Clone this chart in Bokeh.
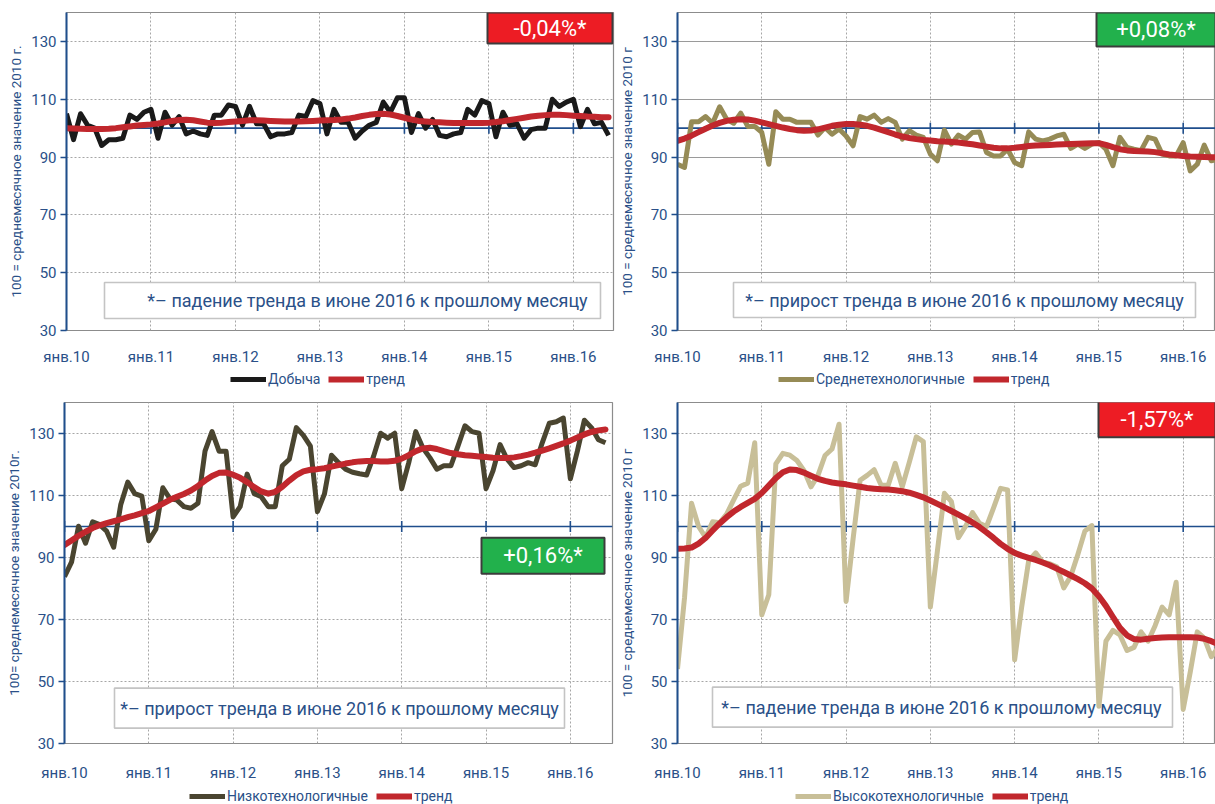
import math
from bokeh.plotting import figure
from bokeh.layouts import column, row
from bokeh.models import FixedTicker, Span, Legend, LegendItem, Range1d
from bokeh.core.properties import value
from bokeh.embed import file_html
from bokeh.resources import INLINE

FONT = "Roboto"
BLUE = "#1f4e8c"
TXT = "#2a5088"
TREND_COLOR = "#c1272d"
GRID = "#a6a6a6"

# ---------------- data (monthly, Jan 2010 .. Jun 2016) ----------------
month_idx = list(range(78))
year_ticks = [0, 12, 24, 36, 48, 60, 72]
year_labels = ["янв.10", "янв.11", "янв.12", "янв.13", "янв.14", "янв.15", "янв.16"]
y_ticks = [30, 50, 70, 90, 110, 130]

dobycha = [
    105, 96, 105, 101, 100, 94, 96, 96, 96.5, 104.5, 103, 105.5,
    106.5, 96.5, 105.5, 101, 104, 98, 99, 98, 97.5, 104.5, 104.5, 108,
    107.5, 101, 107.5, 101.5, 101.5, 97, 98, 98, 98.5, 104.5, 104, 109.5,
    108.5, 98, 106.5, 102, 102, 96.5, 99, 101, 102, 109, 105.5, 110.5,
    110.5, 98.5, 105, 100, 103, 97.5, 97, 98, 98.5, 106.5, 104.5, 109.5,
    108.5, 97, 105.5, 101, 101.5, 96.5, 99.5, 100, 100, 110, 107.5, 109,
    110, 100.5, 106.5, 101.5, 102, 97.5]
dobycha_trend = [
    100.0, 99.9, 99.8, 99.7, 99.7, 99.7, 99.8, 100.0, 100.3, 100.6, 100.9, 101.1,
    101.3, 101.6, 102.0, 102.5, 102.8, 102.9, 102.7, 102.3, 101.9, 101.8, 101.9, 102.1,
    102.3, 102.5, 102.7, 102.7, 102.6, 102.5, 102.4, 102.3, 102.3, 102.3, 102.4, 102.5,
    102.6, 102.7, 102.8, 103.0, 103.3, 103.7, 104.2, 104.6, 104.9, 105.0, 104.7, 104.2,
    103.6, 103.0, 102.5, 102.3, 102.1, 102.0, 101.9, 101.8, 101.8, 101.8, 101.8, 101.8,
    101.9, 102.1, 102.4, 102.8, 103.2, 103.6, 104.0, 104.3, 104.5, 104.6, 104.6, 104.5,
    104.3, 104.2, 104.0, 103.9, 103.8, 103.8]

mid_tech = [
    87.5, 86.4, 102.2, 102.2, 104, 101.7, 107.4, 103.1, 101.7, 105.2, 100.6, 100.6,
    98.5, 87.5, 105.7, 103.1, 103.1, 102, 102, 102, 97.6, 100.2, 97.9, 99.7,
    97.3, 93.9, 104, 103.1, 104.5, 102, 103.3, 102, 96.2, 99.1, 97.6, 96.8,
    91, 88.7, 99.3, 94.5, 97.6, 96.2, 98.5, 98.7, 91.6, 90.4, 90.4, 92.7,
    88.1, 87, 98.7, 96.2, 95.6, 96.2, 97.3, 97.9, 93, 94.5, 93, 94.5,
    95, 92.7, 87, 96.8, 93.3, 92.7, 92.2, 96.8, 96.2, 91, 90.4, 90.4,
    95, 85.2, 87.5, 94.1, 88.7, 89.3]
mid_trend = [
    95.6, 96.4, 97.4, 98.6, 99.8, 100.9, 101.8, 102.5, 102.9, 103.1, 103.0, 102.6,
    102.0, 101.4, 100.8, 100.2, 99.7, 99.3, 99.1, 99.2, 99.6, 100.2, 100.8, 101.2,
    101.4, 101.4, 101.2, 100.8, 100.2, 99.4, 98.6, 97.8, 97.1, 96.6, 96.2, 95.9,
    95.7, 95.5, 95.4, 95.2, 95.0, 94.7, 94.4, 94.0, 93.6, 93.2, 93.0, 93.0,
    93.2, 93.5, 93.8, 94.0, 94.1, 94.2, 94.3, 94.4, 94.5, 94.6, 94.7, 94.8,
    94.8, 94.2, 93.4, 92.7, 92.3, 92.1, 92.0, 91.9, 91.7, 91.3, 90.9, 90.6,
    90.4, 90.2, 90.1, 90.0, 89.9, 89.9]

low_tech = [
    83.8, 88.5, 100.1, 94.6, 101.5, 100.6, 98.5, 93.3, 107, 114.3, 110.6, 109.8,
    95.4, 99.1, 112.5, 109, 108.5, 106.4, 105.9, 107.5, 124.3, 130.6, 124.3, 124.3,
    103.1, 106.4, 116.9, 110.6, 109.6, 106.4, 106.4, 119.6, 121.7, 131.9, 129.4, 125.9,
    104.8, 110.5, 123, 120.6, 118.5, 117.5, 117, 116.6, 122.7, 130.1, 128.5, 130.1,
    112.2, 120.6, 130.6, 125.4, 122.2, 118.5, 119.6, 119.6, 125.9, 132.5, 130.6, 130.1,
    112.2, 118, 126.4, 121.7, 119, 119.6, 120.6, 119.9, 127, 133.3, 133.8, 135,
    115.4, 124.3, 134.3, 131.9, 128, 127]
low_trend = [
    94.0, 95.5, 97.0, 98.3, 99.5, 100.4, 101.1, 101.7, 102.3, 103.0, 103.6, 104.3,
    105.0, 106.2, 107.4, 108.6, 109.6, 110.5, 111.6, 113.1, 114.8, 116.3, 117.3, 117.4,
    116.7, 115.7, 114.3, 112.7, 111.3, 110.6, 111.2, 112.8, 114.8, 116.6, 117.8, 118.3,
    118.5, 118.8, 119.3, 119.8, 120.3, 120.7, 121.0, 121.1, 121.1, 121.0, 121.0, 121.2,
    121.9, 123.0, 124.3, 125.2, 125.4, 125.0, 124.3, 123.7, 123.3, 123.0, 122.8, 122.6,
    122.4, 122.2, 122.1, 122.1, 122.3, 122.7, 123.2, 123.8, 124.5, 125.2, 126.0, 126.8,
    127.7, 128.7, 129.7, 130.5, 131.0, 131.3]

high_tech = [
    54, 77, 107.5, 100, 96.5, 101.5, 101.2, 104, 108.6, 113, 114, 127,
    71.5, 78, 120.2, 123.6, 123, 121.3, 118.1, 112.8, 116.5, 122.9, 125, 133,
    75.8, 96, 114.9, 116.5, 118.3, 113.3, 113.3, 120.4, 112.8, 120.7, 128.9, 127.4,
    74, 92, 110.7, 108, 96.4, 100, 104.5, 101, 100, 106, 112.3, 111.8,
    57, 74, 89, 91.5, 88.5, 88, 87, 80.2, 84, 91, 98.5, 100.3,
    42, 63, 66.5, 65, 60, 61, 66, 63, 68, 74, 71.5, 82,
    41, 53, 66, 64, 58, 61]
high_trend = [
    92.8, 92.9, 93.2, 94.5, 96.3, 98.7, 101.0, 103.0, 104.8, 106.3, 107.6, 108.9,
    110.8, 113.2, 115.6, 117.5, 118.4, 118.2, 117.4, 116.4, 115.4, 114.7, 114.2, 113.9,
    113.6, 113.2, 112.8, 112.4, 112.2, 112.0, 111.9, 111.7, 111.4, 110.9, 110.2, 109.4,
    108.4, 107.3, 106.2, 105.0, 103.8, 102.6, 101.3, 99.8, 98.1, 96.3, 94.4, 92.8,
    91.5, 90.6, 89.9, 89.2, 88.4, 87.5, 86.4, 85.3, 84.2, 83.0, 81.7, 80.0,
    77.5, 74.4, 70.8, 67.3, 64.9, 63.7, 63.5, 63.8, 64.0, 64.2, 64.3, 64.3,
    64.3, 64.3, 64.2, 63.8, 63.0, 62.0]

series_names = ["Добыча", "Среднетехнологичные", "Низкотехнологичные", "Высокотехнологичные"]
trend_name = "тренд"
change_texts = ["-0,04%*", "+0,08%*", "+0,16%*", "-1,57%*"]
note_fall = "*– падение тренда в июне 2016 к прошлому месяцу"
note_rise = "*– прирост тренда в июне 2016 к прошлому месяцу"
y_labels = ["100 = среднемесячное значение 2010 г.",
            "100 = среднемесячное значение 2010 г",
            "100= среднемесячное значение 2010г.",
            "100 = среднемесячное значение 2010 г"]

# ---------------- layout config (page pixels, page origin = top-left) ----------------
panels = [
    dict(ox=0, oy=0, w=615, h=369, bl=66, br=2, bt=12, bb=39, xend=77.7, lh=26,
         series=dobycha, trend=dobycha_trend, color="#1a1a1a", name=series_names[0],
         ylab=y_labels[0], solid_h=False, xs=11,
         box=change_texts[0], box_color="#ed1c24", box_c=(549.5, 27.5), box_s=(125, 31),
         note=note_fall, note_c=(352, 300), note_s=(496, 36), note_t=(367, 300),
         leg_loc=(164, 8)),
    dict(ox=615, oy=0, w=600, h=369, bl=62, br=0, bt=12, bb=39, xend=76.6, lh=26,
         series=mid_tech, trend=mid_trend, color="#968b56", name=series_names[1],
         ylab=y_labels[1], solid_h=True, xs=11,
         box=change_texts[1], box_color="#22b14c", box_c=(1155.5, 29), box_s=(119, 34),
         note=note_rise, note_c=(964, 299.5), note_s=(462, 35), note_t=(964, 299.5),
         leg_loc=(101, 8)),
    dict(ox=0, oy=395, w=615, h=389, bl=64, br=3, bt=7, bb=35, xend=78.0, lh=20,
         series=low_tech, trend=low_trend, color="#4a4530", name=series_names[2],
         ylab=y_labels[2], solid_h=False, xs=14,
         box=change_texts[2], box_color="#22b14c", box_c=(542.5, 558), box_s=(123, 36),
         note=note_rise, note_c=(339, 713), note_s=(450, 40), note_t=(339, 713),
         leg_loc=(125, 0)),
    dict(ox=615, oy=395, w=600, h=389, bl=62, br=0, bt=7, bb=35, xend=76.6, lh=20,
         series=high_tech, trend=high_trend, color="#c8bf98", name=series_names[3],
         ylab=y_labels[3], solid_h=False, xs=14,
         box=change_texts[3], box_color="#ed1c24", box_c=(1156.5, 419), box_s=(117, 36),
         note=note_fall, note_c=(942, 712), note_s=(460, 40), note_t=(941, 712),
         leg_loc=(118, 0)),
]
Y0, Y1 = 30, 140


def to_data(c, px, py):
    fl = c["ox"] + c["bl"]
    ft = c["oy"] + c["bt"]
    fw = c["w"] - c["bl"] - c["br"]
    fh = c["h"] - c["bt"] - c["bb"]
    x = (px - fl) / fw * c["xend"]
    y = Y1 - (py - ft) / fh * (Y1 - Y0)
    return x, y


def make_panel(c):
    p = figure(width=c["w"], height=c["h"], x_range=Range1d(0, c["xend"]),
               y_range=Range1d(Y0, Y1), output_backend="svg", toolbar_location=None,
               min_border_left=c["bl"], min_border_right=c["br"],
               min_border_top=c["bt"], min_border_bottom=c["bb"])
    p.background_fill_color = "white"
    p.border_fill_color = "white"
    p.outline_line_color = "#8c8c8c"
    p.outline_line_width = 1.2

    # y axis
    ya = p.yaxis[0]
    ya.ticker = FixedTicker(ticks=y_ticks)
    ya.axis_line_color = BLUE
    ya.axis_line_width = 2
    ya.major_tick_line_color = BLUE
    ya.major_tick_line_width = 1.5
    ya.major_tick_in = 0
    ya.major_tick_out = 6
    ya.minor_tick_line_color = None
    ya.major_label_text_font = FONT
    ya.major_label_text_font_size = "15px"
    ya.major_label_text_color = TXT
    ya.major_label_standoff = 4
    ya.axis_label = c["ylab"]
    ya.axis_label_text_font = FONT
    ya.axis_label_text_font_size = "13.5px"
    ya.axis_label_text_font_style = "normal"
    ya.axis_label_text_color = TXT
    ya.axis_label_standoff = 4

    # x axis (labels only, at the bottom)
    xa = p.xaxis[0]
    xa.ticker = FixedTicker(ticks=year_ticks)
    xa.major_label_overrides = {t: l for t, l in zip(year_ticks, year_labels)}
    xa.axis_line_color = None
    xa.major_tick_line_color = None
    xa.minor_tick_line_color = None
    xa.major_label_text_font = FONT
    xa.major_label_text_font_size = "15px"
    xa.major_label_text_color = TXT
    xa.major_label_standoff = c["xs"]

    # grids
    p.xgrid.grid_line_color = GRID
    p.xgrid.grid_line_dash = "2 2"
    p.xgrid.grid_line_width = 1
    p.ygrid.grid_line_color = "#9a9a9a" if c["solid_h"] else GRID
    p.ygrid.grid_line_width = 1.2 if c["solid_h"] else 1
    p.ygrid.grid_line_dash = "solid" if c["solid_h"] else "2 2"

    # base line at 100 with year ticks
    p.add_layout(Span(location=100, dimension="width", line_color=BLUE,
                      line_width=1.6, level="underlay"))
    p.scatter(x=year_ticks, y=[100] * len(year_ticks), marker="dash", size=11,
              angle=math.pi / 2, line_color=BLUE, line_width=1.6)

    # note box
    nx, ny = to_data(c, *c["note_c"])
    p.rect(x=[nx], y=[ny], width=c["note_s"][0], height=c["note_s"][1],
           width_units="screen", height_units="screen",
           fill_color="white", line_color="#c4c4c4", line_width=1.6)
    tx, ty = to_data(c, *c["note_t"])
    p.text(x=[tx], y=[ty], text=[c["note"]], text_font=value(FONT),
           text_font_size="18px", text_color=TXT, text_align="center",
           text_baseline="middle")

    # data
    p.line(month_idx, c["series"], line_color=c["color"], line_width=5,
           line_join="round")
    p.line(month_idx, c["trend"], line_color=TREND_COLOR, line_width=6,
           line_join="round", line_cap="round")

    # change box
    bx, by = to_data(c, *c["box_c"])
    p.rect(x=[bx], y=[by], width=c["box_s"][0], height=c["box_s"][1],
           width_units="screen", height_units="screen",
           fill_color=c["box_color"], line_color="#3c3c3c", line_width=2)
    p.text(x=[bx], y=[by], text=[c["box"]], text_font=value(FONT),
           text_font_size="22px", text_color="white", text_align="center",
           text_baseline="middle")

    # legend strip under the panel (legend keys only; no data drawn here)
    lg = figure(width=c["w"], height=c["lh"], x_range=Range1d(0, 1), y_range=Range1d(0, 1),
                x_axis_type=None, y_axis_type=None, output_backend="svg",
                toolbar_location=None,
                min_border_left=0, min_border_right=0, min_border_top=0, min_border_bottom=0)
    lg.outline_line_color = None
    lg.background_fill_color = "white"
    lg.border_fill_color = "white"
    nan = float("nan")
    k1 = lg.line([nan], [nan], line_color=c["color"], line_width=5)
    k2 = lg.line([nan], [nan], line_color=TREND_COLOR, line_width=6)
    leg = Legend(items=[LegendItem(label=c["name"], renderers=[k1]),
                        LegendItem(label=trend_name, renderers=[k2])],
                 orientation="horizontal", location=c["leg_loc"],
                 border_line_color=None, background_fill_alpha=0,
                 label_text_font=FONT, label_text_font_size="14px",
                 label_text_color=TXT, glyph_width=36, glyph_height=14,
                 label_height=14, label_standoff=2, spacing=8,
                 padding=2, margin=0)
    lg.add_layout(leg)
    return column(p, lg, spacing=0)


cols = [make_panel(c) for c in panels]
layout = column(row(cols[0], cols[1], spacing=0), row(cols[2], cols[3], spacing=0), spacing=0)

open("out.html", "w").write(file_html(layout, INLINE))
